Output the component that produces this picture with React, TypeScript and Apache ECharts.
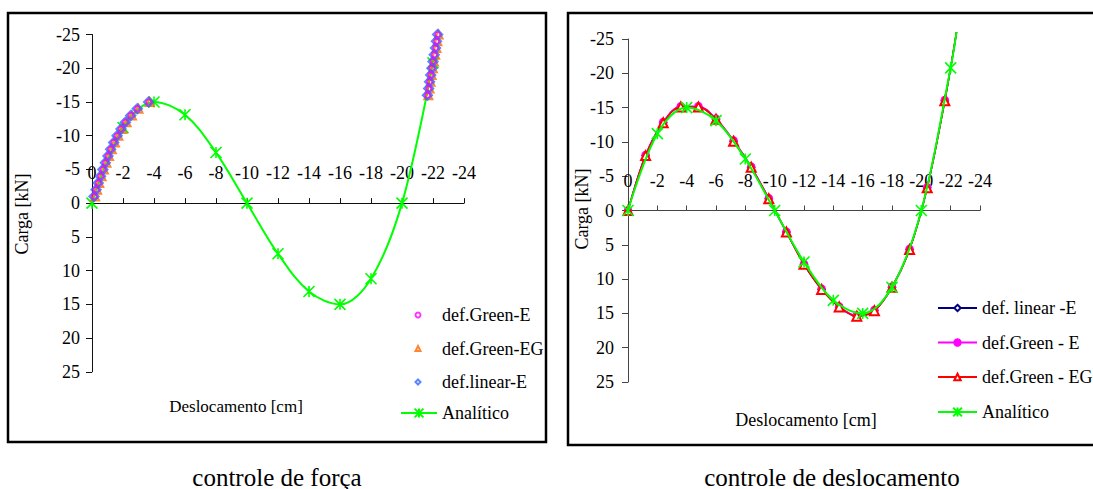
import React, { useEffect, useRef } from 'react';
import * as echarts from 'echarts';

const FONT = 'Liberation Serif';

// ---- shared analytical curve ----
const analyticDisp = [0, -2, -4, -6, -8, -10, -12, -14, -16, -18, -20, -22];
const analyticLoad = [0, -11.2, -15, -13.1, -7.5, 0, 7.5, 13.1, 15, 11.2, 0, -20.8];
// end of the curves in the right panel (top edge)
const rightTailDisp = -22.4;
const rightTailLoad = -26;

// ---- left panel: controle de força ----
const forceLoads = [
  -1, -2, -3, -4, -5, -6, -7, -8, -9, -10, -11, -12, -13, -14, -15,
  -16, -17, -18, -19, -20, -21, -22, -23, -24, -25,
];
const forceDispGreenE = [
  -0.13, -0.26, -0.4, -0.55, -0.7, -0.86, -1.03, -1.2, -1.4, -1.62, -1.87, -2.15, -2.5, -2.92, -3.65,
  -21.64, -21.72, -21.78, -21.85, -21.93, -22.0, -22.08, -22.16, -22.22, -22.3,
];
const forceDispGreenEG = [
  -0.2, -0.33, -0.47, -0.62, -0.77, -0.93, -1.1, -1.28, -1.48, -1.7, -1.95, -2.23, -2.58, -3.0, -3.72,
  -21.7, -21.78, -21.84, -21.91, -21.99, -22.06, -22.14, -22.22, -22.28, -22.36,
];
const forceDispLinearE = [
  -0.13, -0.26, -0.4, -0.55, -0.7, -0.86, -1.03, -1.2, -1.4, -1.62, -1.87, -2.15, -2.5, -2.92, -3.65,
  -21.64, -21.72, -21.78, -21.85, -21.93, -22.0, -22.08, -22.16, -22.22, -22.3,
];

// ---- right panel: controle de deslocamento ----
const dispSteps = [
  0, -1.2, -2.4, -3.6, -4.8, -6.0, -7.2, -8.4, -9.6, -10.8,
  -12.0, -13.2, -14.4, -15.6, -16.8, -18.0, -19.2, -20.4, -21.6,
];
const dispLoadLinearE = [
  0, -8.0, -12.8, -15.1, -15.1, -13.3, -10.1, -6.3, -1.7, 3.15,
  7.85, 11.5, 14.05, 15.4, 14.6, 11.2, 5.7, -3.3, -16.0,
];
const dispLoadGreenE = [
  0, -8.1, -12.9, -15.2, -15.2, -13.4, -10.2, -6.4, -1.8, 3.1,
  7.8, 11.4, 14.0, 15.3, 14.5, 11.1, 5.6, -3.4, -16.1,
];
const dispLoadGreenEG = [
  0, -8.0, -12.8, -15.1, -15.1, -13.3, -10.1, -6.3, -1.7, 3.15,
  7.85, 11.5, 14.05, 15.4, 14.6, 11.2, 5.7, -3.3, -16.0,
];

const xTickInterval = 2;
const yTickInterval = 5;

const zip = (xs: number[], ys: number[]) => xs.map((x, i) => [x, ys[i]]);
const withTail = (pts: number[][]) =>
  [...pts, { value: [rightTailDisp, rightTailLoad], symbol: 'none' }];

const STAR = 'path://M5,0L5,10M0,0L10,10M0,10L10,0';
const TRI = 'path://M5,0L10,10L0,10Z';
const DIAMOND = 'path://M5,0L10,5L5,10L0,5Z';

// grid geometry (pixels)
const G0 = { left: 92, top: 34.5, width: 372, height: 337.3 };
const G1 = { left: 628, top: 39, width: 352, height: 343 };

function makeXAxis(gridIndex: number, color: string) {
  return {
    gridIndex,
    type: 'value',
    min: -24,
    max: 0,
    interval: xTickInterval,
    inverse: true,
    axisLine: { show: true, onZero: true, lineStyle: { color, width: 1 } },
    axisTick: { show: true, inside: true, length: 5, lineStyle: { color, width: 1 } },
    axisLabel: { show: false },
    splitLine: { show: false },
  };
}

// label-only axis, pushed down from the grid's top to the zero line
function makeXLabelAxis(gridIndex: number, offsetDown: number) {
  return {
    gridIndex,
    type: 'value',
    position: 'top',
    offset: -offsetDown,
    min: -24,
    max: 0,
    interval: xTickInterval,
    inverse: true,
    axisLine: { show: false, onZero: false },
    axisTick: { show: false },
    axisLabel: {
      show: true, margin: 21, fontSize: 18, fontFamily: FONT, color: '#000', hideOverlap: false,
    },
    splitLine: { show: false },
  };
}

function makeYAxis(gridIndex: number, color: string, margin: number) {
  return {
    gridIndex,
    type: 'value',
    min: -25,
    max: 25,
    interval: yTickInterval,
    inverse: true,
    axisLine: { show: true, onZero: true, lineStyle: { color, width: 1 } },
    axisTick: { show: true, inside: false, length: 6, lineStyle: { color, width: 1 } },
    axisLabel: { show: true, margin, fontSize: 18, fontFamily: FONT, color: '#000', hideOverlap: false },
    splitLine: { show: false },
  };
}

const legendText = { fontFamily: FONT, fontSize: 18, color: '#000' };

export default function App() {
  const ref = useRef<HTMLDivElement>(null);

  useEffect(() => {
    if (!ref.current) return;
    const chart = echarts.init(ref.current, undefined, { renderer: 'svg' });

    const common = { silent: true, emphasis: { disabled: true }, animation: false };

    const option: any = {
      animation: false,
      backgroundColor: '#fff',
      textStyle: { fontFamily: FONT },
      grid: [
        { ...G0, containLabel: false, outerBoundsMode: 'none' },
        { ...G1, containLabel: false, outerBoundsMode: 'none' },
      ],
      xAxis: [
        makeXAxis(0, '#111'),
        makeXAxis(1, '#444'),
        makeXLabelAxis(0, G0.height / 2),
        makeXLabelAxis(1, G1.height / 2),
      ],
      yAxis: [makeYAxis(0, '#111', 12), makeYAxis(1, '#444', 14)],
      legend: [
        {
          // icons are centred in a 38px slot; the box is placed by the icon's own left edge
          left: 414.5, top: 306, padding: 0, orient: 'vertical', itemWidth: 38, itemHeight: 5, itemGap: 15.5,
          symbolKeepAspect: true, selectedMode: false, textStyle: legendText,
          data: ['def.Green-E', 'def.Green-EG', 'def.linear-E'],
        },
        {
          left: 400, top: 404, padding: 0, orient: 'vertical', itemWidth: 36, itemHeight: 11,
          selectedMode: false, textStyle: legendText,
          data: ['Analítico'],
        },
        {
          left: 937, top: 299, padding: 0, orient: 'vertical', itemWidth: 39, itemHeight: 8, itemGap: 16.5,
          selectedMode: false, textStyle: legendText,
          data: ['def. linear -E', 'def.Green - E', 'def.Green - EG'],
        },
        {
          left: 937, top: 403, padding: 0, orient: 'vertical', itemWidth: 39, itemHeight: 11,
          selectedMode: false, textStyle: legendText,
          data: [{ name: 'Analítico' }],
        },
      ],
      series: [
        // ---- left panel ----
        {
          ...common, name: 'def.Green-EG', type: 'scatter', xAxisIndex: 0, yAxisIndex: 0, clip: false,
          symbol: TRI, symbolSize: 8,
          itemStyle: { color: 'rgba(0,0,0,0)', borderColor: '#FF6600', borderWidth: 2 },
          data: zip(forceDispGreenEG, forceLoads), z: 3,
        },
        {
          ...common, name: 'def.linear-E', type: 'scatter', xAxisIndex: 0, yAxisIndex: 0, clip: false,
          symbol: DIAMOND, symbolSize: 9,
          itemStyle: { color: 'rgba(0,0,0,0)', borderColor: '#3366FF', borderWidth: 2.2 },
          data: zip(forceDispLinearE, forceLoads), z: 4,
        },
        {
          ...common, name: 'def.Green-E', type: 'scatter', xAxisIndex: 0, yAxisIndex: 0, clip: false,
          symbol: 'circle', symbolSize: 5,
          itemStyle: { color: 'rgba(0,0,0,0)', borderColor: '#FF00FF', borderWidth: 1.6 },
          data: zip(forceDispGreenE, forceLoads), z: 5,
        },
        {
          ...common, name: 'Analítico', type: 'line', xAxisIndex: 0, yAxisIndex: 0, clip: false,
          smooth: 0.35, symbol: STAR, symbolSize: 11, showAllSymbol: true,
          lineStyle: { color: '#00FF00', width: 2 },
          itemStyle: { color: '#00FF00', borderColor: '#00FF00', borderWidth: 1.6 },
          data: zip(analyticDisp, analyticLoad), z: 2,
        },
        // ---- right panel ----
        {
          ...common, name: 'def. linear -E', type: 'line', xAxisIndex: 1, yAxisIndex: 1, clip: false,
          smooth: 0.35, symbol: 'diamond', symbolSize: 7, showAllSymbol: true,
          lineStyle: { color: '#000080', width: 1.5 },
          itemStyle: { color: '#fff', borderColor: '#000080', borderWidth: 1.5 },
          data: withTail(zip(dispSteps, dispLoadLinearE)), z: 2,
        },
        {
          ...common, name: 'def.Green - E', type: 'line', xAxisIndex: 1, yAxisIndex: 1, clip: false,
          smooth: 0.35, symbol: 'circle', symbolSize: 7, showAllSymbol: true,
          lineStyle: { color: '#FF00FF', width: 1.5 },
          itemStyle: { color: '#FF00FF', borderColor: '#FF00FF', borderWidth: 1.5 },
          data: withTail(zip(dispSteps, dispLoadGreenE)), z: 3,
        },
        {
          ...common, name: 'def.Green - EG', type: 'line', xAxisIndex: 1, yAxisIndex: 1, clip: false,
          smooth: 0.35, symbol: 'triangle', symbolSize: 9, showAllSymbol: true,
          lineStyle: { color: '#FF0000', width: 1.5 },
          itemStyle: { color: '#fff', borderColor: '#FF0000', borderWidth: 2 },
          data: withTail(zip(dispSteps, dispLoadGreenEG)), z: 4,
        },
        {
          ...common, name: 'Analítico', type: 'line', xAxisIndex: 1, yAxisIndex: 1, clip: false,
          smooth: 0.35, symbol: STAR, symbolSize: 11, showAllSymbol: true,
          lineStyle: { color: '#00FF00', width: 2 },
          itemStyle: { color: '#00FF00', borderColor: '#00FF00', borderWidth: 1.6 },
          data: withTail(zip(analyticDisp, analyticLoad)), z: 5,
        },
      ],
      graphic: [
        { type: 'rect', shape: { x: 8, y: 13, width: 538, height: 429 },
          style: { fill: 'none', stroke: '#000', lineWidth: 2.5 }, silent: true },
        { type: 'rect', shape: { x: 568, y: 13, width: 600, height: 432 },
          style: { fill: 'none', stroke: '#000', lineWidth: 2.5 }, silent: true },
        { type: 'text', x: 21.5, y: 214, rotation: Math.PI / 2, silent: true,
          style: { text: 'Carga [kN]', fontFamily: FONT, fontSize: 18, fill: '#000', align: 'center', verticalAlign: 'middle' } },
        { type: 'text', x: 582, y: 209, rotation: Math.PI / 2, silent: true,
          style: { text: 'Carga [kN]', fontFamily: FONT, fontSize: 18, fill: '#000', align: 'center', verticalAlign: 'middle' } },
        { type: 'text', x: 236, y: 406, silent: true,
          style: { text: 'Deslocamento [cm]', fontFamily: FONT, fontSize: 17, fill: '#000', align: 'center', verticalAlign: 'middle' } },
        { type: 'text', x: 806, y: 420, silent: true,
          style: { text: 'Deslocamento [cm]', fontFamily: FONT, fontSize: 18, fill: '#000', align: 'center', verticalAlign: 'middle' } },
        { type: 'text', x: 277, y: 477, silent: true,
          style: { text: 'controle de força', fontFamily: FONT, fontSize: 25, lineHeight: 20, fill: '#000', align: 'center', verticalAlign: 'middle' } },
        { type: 'text', x: 832, y: 477, silent: true,
          style: { text: 'controle de deslocamento', fontFamily: FONT, fontSize: 25, lineHeight: 20, fill: '#000', align: 'center', verticalAlign: 'middle' } },
      ],
    };

    chart.setOption(option);
    return () => chart.dispose();
  }, []);

  return (
    <div style={{ position: 'absolute', left: 0, top: 0, width: 1093, height: 489, background: '#fff', overflow: 'hidden' }}>
      <div ref={ref} style={{ width: 1093, height: 489 }} />
    </div>
  );
}
